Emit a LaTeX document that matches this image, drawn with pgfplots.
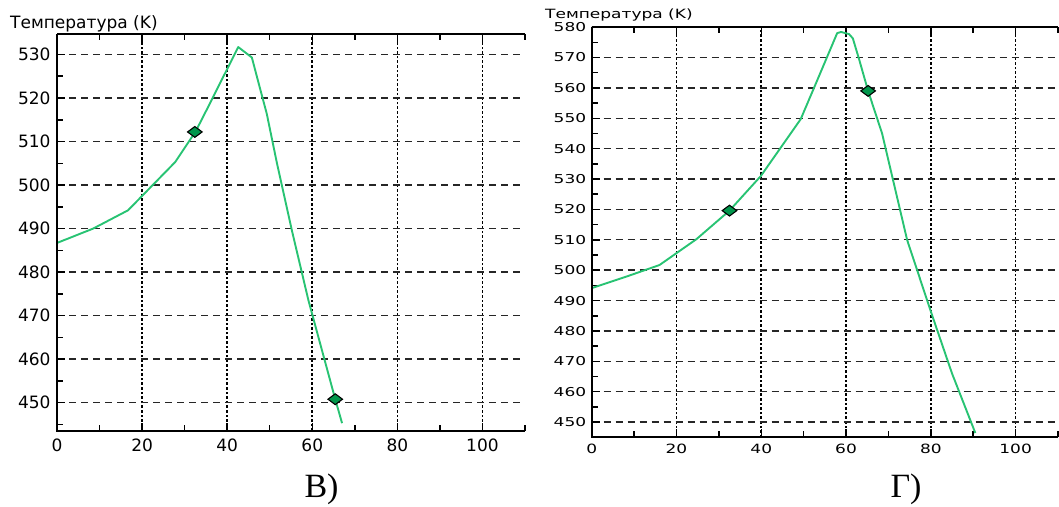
\documentclass[border=0pt]{standalone}
\usepackage{pgfplots}
\pgfplotsset{compat=1.18}
\usepackage{fontspec}
\setmainfont{DejaVu Sans}
\newfontfamily\serifB{Liberation Serif}
\definecolor{curve}{RGB}{40,195,115}
\definecolor{mk}{RGB}{0,150,75}
\pgfplotsset{
  panel/.style={
    scale only axis,
    xmin=0, xmax=110,
    axis line style={draw=none},
    xtick={0,20,...,100},
    minor xtick={10,30,...,110},
    xtick pos=both,
    ytick pos=left,
    tick align=inside,
    major tick length=8pt,
    minor tick length=6pt,
    every tick/.style={black, line width=1.5pt},
    grid=major,
    major x grid style={black, line width=1.6pt, dash pattern=on 2.6pt off 2pt},
    major y grid style={black!85, line width=1.4pt, dash pattern=on 7pt off 5pt},
    /pgf/number format/assume math mode=true,
    ticklabel style={font=\fontsize{17}{19}\selectfont},
    clip=false,
  },
  curveline/.style={curve, line width=1.9pt, line join=round, mark=none},
  dots/.style={only marks, mark=diamond*, mark size=5.4pt,
     mark options={fill=mk, draw=black, line width=1.1pt, xscale=1.8}},
}
\begin{document}
\begin{tikzpicture}
\path[use as bounding box] (0,0) rectangle (1059pt,506pt);
% ---------- left panel ----------
\begin{axis}[panel,
  at={(57pt,75pt)}, anchor=south west,
  width=468pt, height=397pt,
  ymin=443.5, ymax=534.7,
  ytick={450,460,...,530},
  minor ytick={445,455,...,535},
  yticklabel style={xshift=-3pt},
  xticklabel style={yshift=-4pt},
]
\addplot[curveline] coordinates {
 (0,486.7) (8.5,490.0) (16.7,494.2) (27.8,505.3) (32.5,512.2) (34,515)
 (42.6,531.7) (45.8,529.3) (47.5,523) (49.3,516.4) (51.7,505)
 (55.2,489.6) (59.1,473.5) (65.4,450.8) (67,445.3)
};
\addplot[dots] coordinates {(32.4,512.2) (65.4,450.8)};
\draw[black, line width=2pt] (rel axis cs:0,1) -- (rel axis cs:0,0) -- (rel axis cs:1,0);
\draw[black, line width=1.5pt] (rel axis cs:0,1) -- (rel axis cs:1,1);
\end{axis}
\node[anchor=base west, inner sep=0pt, font=\fontsize{17}{19}\selectfont] at (10pt,477pt) {Температура (K)};
\node[anchor=base, inner sep=0pt, font=\serifB\fontsize{34}{37}\selectfont] at (321.5pt,9pt) {В)};
% ---------- right panel ----------
\begin{axis}[panel,
  at={(591.7pt,68.7pt)}, anchor=south west,
  width=466.3pt, height=410.2pt,
  ymin=445, ymax=580,
  ytick={450,460,...,580},
  minor ytick={455,465,...,575},
  yticklabel={\scalebox{1}[0.72]{\pgfmathprintnumber{\tick}}},
  xticklabel={\scalebox{1}[0.75]{\pgfmathprintnumber{\tick}}},
  yticklabel style={xshift=-2pt},
  xticklabel style={yshift=-3pt},
]
\addplot[curveline] coordinates {
 (0,494.1) (8.2,497.9) (16,501.7) (24.7,510.2) (32.5,519.6) (39.9,531)
 (49.3,549.7) (52.9,561.5) (57.9,578) (58.8,578.4) (60.7,577.7) (61.6,576.3)
 (63.1,569.3) (65.2,559) (68.5,545) (74.4,510) (80,486.4) (85,466) (90.5,446.4)
};
\addplot[dots] coordinates {(32.5,519.6) (65.2,559)};
\draw[black, line width=2pt] (rel axis cs:0,1) -- (rel axis cs:0,0) -- (rel axis cs:1,0);
\draw[black, line width=1.5pt] (rel axis cs:0,1) -- (rel axis cs:1,1);
\end{axis}
\node[anchor=base west, inner sep=0pt, font=\fontsize{17}{19}\selectfont] at (545pt,487.7pt) {\scalebox{1}[0.75]{Температура (K)}};
\node[anchor=base, inner sep=0pt, font=\serifB\fontsize{34}{37}\selectfont] at (906pt,9pt) {Г)};
\end{tikzpicture}
\end{document}
